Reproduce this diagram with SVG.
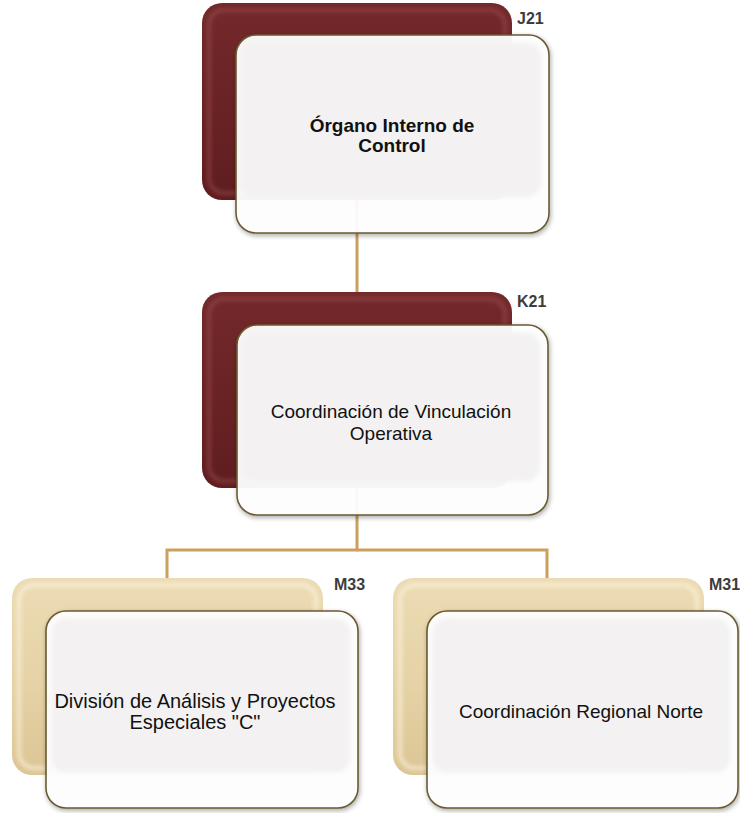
<svg xmlns="http://www.w3.org/2000/svg" width="740" height="813" viewBox="0 0 740 813">
  <defs>
    <linearGradient id="maroon" x1="0" y1="0" x2="0" y2="1">
      <stop offset="0" stop-color="#74292b"/>
      <stop offset="0.5" stop-color="#6a2325"/>
      <stop offset="1" stop-color="#5f1d1f"/>
    </linearGradient>
    <linearGradient id="tan" x1="0" y1="0" x2="0" y2="1">
      <stop offset="0" stop-color="#ecdbb4"/>
      <stop offset="0.5" stop-color="#e6d3a7"/>
      <stop offset="1" stop-color="#dcc595"/>
    </linearGradient>
    <filter id="blur" x="-10%" y="-10%" width="120%" height="120%">
      <feGaussianBlur stdDeviation="2"/>
    </filter>
    <filter id="shadow" x="-10%" y="-10%" width="125%" height="125%">
      <feGaussianBlur in="SourceAlpha" stdDeviation="2.5"/>
      <feOffset dx="1" dy="2" result="b"/>
      <feComponentTransfer><feFuncA type="linear" slope="0.35"/></feComponentTransfer>
      <feMerge><feMergeNode/><feMergeNode in="SourceGraphic"/></feMerge>
    </filter>
    <style>
      .back-m { fill: url(#maroon); }
      .back-t { fill: url(#tan); }
      .hl-m { fill: none; stroke: #a8595a; stroke-width: 3; opacity: 0.6; filter: url(#blur); }
      .hl-t { fill: none; stroke: #fff8e6; stroke-width: 3; opacity: 0.8; filter: url(#blur); }
      .front { fill: #ffffff; fill-opacity: 0.94; stroke: #6b5a30; stroke-width: 1.6; filter: url(#shadow); }
      .inner { fill: #f3f1f1; filter: url(#blur); }
      .conn { fill: none; stroke: #c9a15c; stroke-width: 3; }
      .lbl { font-family: "Liberation Sans", Arial, sans-serif; font-size: 19px; fill: #111; text-anchor: middle; }
      .lbl20 { font-size: 20px; }
      .bold { font-weight: bold; }
      .code { font-family: "Liberation Sans", Arial, sans-serif; font-size: 16px; font-weight: bold; fill: #3c3c3c; }
    </style>
  </defs>

  <g id="connectors">
    <path class="conn" d="M357,198 V294"/>
    <path class="conn" d="M357,486 V550 H167 V580"/>
    <path class="conn" d="M357,550 H547 V580"/>
  </g>

  <g id="node-j21">
    <rect class="back-m" x="202" y="3" width="310" height="197" rx="20"/>
    <rect class="hl-m" x="209" y="10" width="296" height="183" rx="15"/>
    <rect class="front" x="236" y="35" width="313" height="198" rx="20"/>
    <rect class="inner" x="242" y="43" width="299" height="154" rx="14"/>
    <text class="lbl bold" x="392" y="132">Órgano Interno de</text>
    <text class="lbl bold" x="392" y="152">Control</text>
    <text class="code" x="517" y="24">J21</text>
  </g>

  <g id="node-k21">
    <rect class="back-m" x="202" y="292" width="310" height="196" rx="20"/>
    <rect class="hl-m" x="209" y="299" width="296" height="182" rx="15"/>
    <rect class="front" x="237" y="325" width="311" height="190" rx="20"/>
    <rect class="inner" x="243" y="333" width="297" height="148" rx="14"/>
    <text class="lbl" x="391" y="418">Coordinación de Vinculación</text>
    <text class="lbl" x="391" y="440">Operativa</text>
    <text class="code" x="517" y="307">K21</text>
  </g>

  <g id="node-m33">
    <rect class="back-t" x="12" y="578" width="311" height="197" rx="20"/>
    <rect class="hl-t" x="19" y="585" width="297" height="183" rx="15"/>
    <rect class="front" x="46" y="611" width="312" height="197" rx="20"/>
    <rect class="inner" x="52" y="619" width="298" height="153" rx="14"/>
    <text class="lbl lbl20" x="195" y="708">División de Análisis y Proyectos</text>
    <text class="lbl lbl20" x="195" y="729">Especiales "C"</text>
    <text class="code" x="334" y="590">M33</text>
  </g>

  <g id="node-m31">
    <rect class="back-t" x="393" y="578" width="311" height="197" rx="20"/>
    <rect class="hl-t" x="400" y="585" width="297" height="183" rx="15"/>
    <rect class="front" x="427" y="611" width="311" height="197" rx="20"/>
    <rect class="inner" x="433" y="619" width="297" height="153" rx="14"/>
    <text class="lbl" x="581" y="718">Coordinación Regional Norte</text>
    <text class="code" x="709" y="590">M31</text>
  </g>
</svg>
